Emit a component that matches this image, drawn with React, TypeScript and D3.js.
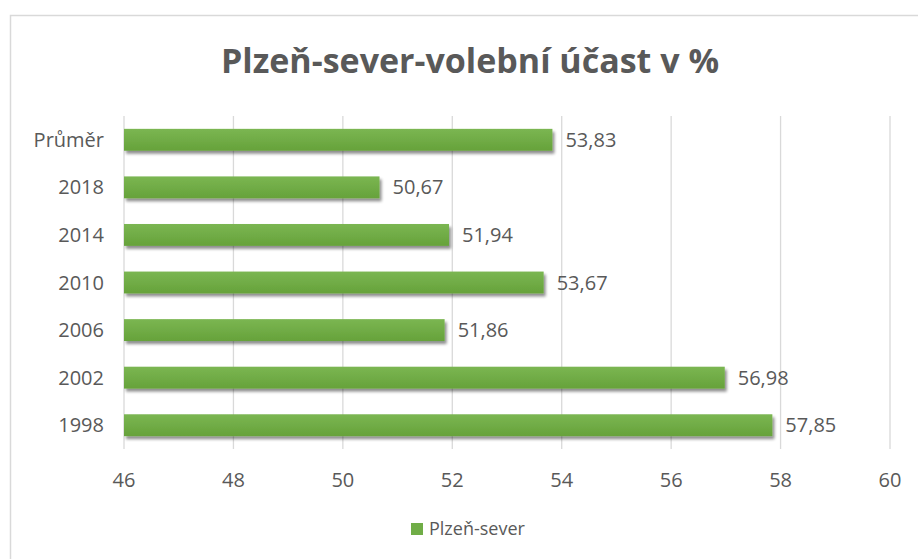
import React from 'react';
import * as d3 from 'd3';

const categories = ['Průměr', '2018', '2014', '2010', '2006', '2002', '1998'];
const values = [53.83, 50.67, 51.94, 53.67, 51.86, 56.98, 57.85];
const xTicks = [46, 48, 50, 52, 54, 56, 58, 60];
const seriesName = 'Plzeň-sever';
const title = 'Plzeň-sever-volební účast v %';

const W = 918;
const H = 559;
const textColor = '#595959';
const font = '"Open Sans", "Liberation Sans", sans-serif';

export default function App() {
  const x = d3.scaleLinear().domain([46, 60]).range([124, 890]);
  const y = d3.scaleBand<string>().domain(categories).range([116, 449]).paddingInner(0.54).paddingOuter(0.27);
  const fmt = (v: number) => v.toFixed(2).replace('.', ',');

  return (
    <svg width={W} height={H} style={{ position: 'absolute', left: 0, top: 0, background: '#fff' }} fontFamily={font}>
      <defs>
        <linearGradient id="barGrad" x1="0" y1="0" x2="0" y2="1">
          <stop offset="0" stopColor="#7bb652" />
          <stop offset="1" stopColor="#66a23a" />
        </linearGradient>
        <filter id="shadow" x="-5%" y="-30%" width="110%" height="180%">
          <feGaussianBlur in="SourceAlpha" stdDeviation="1.6" />
          <feOffset dx="1.5" dy="2.5" result="ob" />
          <feComponentTransfer><feFuncA type="linear" slope="0.45" /></feComponentTransfer>
          <feMerge><feMergeNode /><feMergeNode in="SourceGraphic" /></feMerge>
        </filter>
      </defs>
      <rect x={0} y={0} width={W} height={H} fill="#fff" />
      <path d={`M10.5,${H} V15.5 H${W}`} fill="none" stroke="#d9d9d9" strokeWidth={1.5} />
      <text x={470} y={73} textAnchor="middle" fontSize={34} fontWeight="bold" fill={textColor}>{title}</text>
      {xTicks.map(t => (
        <line key={t} x1={x(t)} x2={x(t)} y1={116} y2={449} stroke="#d9d9d9" strokeWidth={1.3} />
      ))}
      {categories.map((c, i) => (
        <g key={c}>
          <rect x={x(46)} y={y(c)} width={x(values[i]) - x(46)} height={y.bandwidth()} fill="url(#barGrad)" filter="url(#shadow)" />
          <text x={104} y={(y(c) as number) + y.bandwidth() / 2} dy="0.35em" textAnchor="end" fontSize={20} fill={textColor}>{c}</text>
          <text x={x(values[i]) + 13} y={(y(c) as number) + y.bandwidth() / 2} dy="0.35em" fontSize={20} fill={textColor}>{fmt(values[i])}</text>
        </g>
      ))}
      {xTicks.map(t => (
        <text key={t} x={x(t)} y={480} dy="0.35em" textAnchor="middle" fontSize={20} fill={textColor}>{t}</text>
      ))}
      <rect x={411} y={523} width={12} height={12} fill="#70ad47" />
      <text x={429} y={529} dy="0.35em" fontSize={18} fill={textColor}>{seriesName}</text>
    </svg>
  );
}
